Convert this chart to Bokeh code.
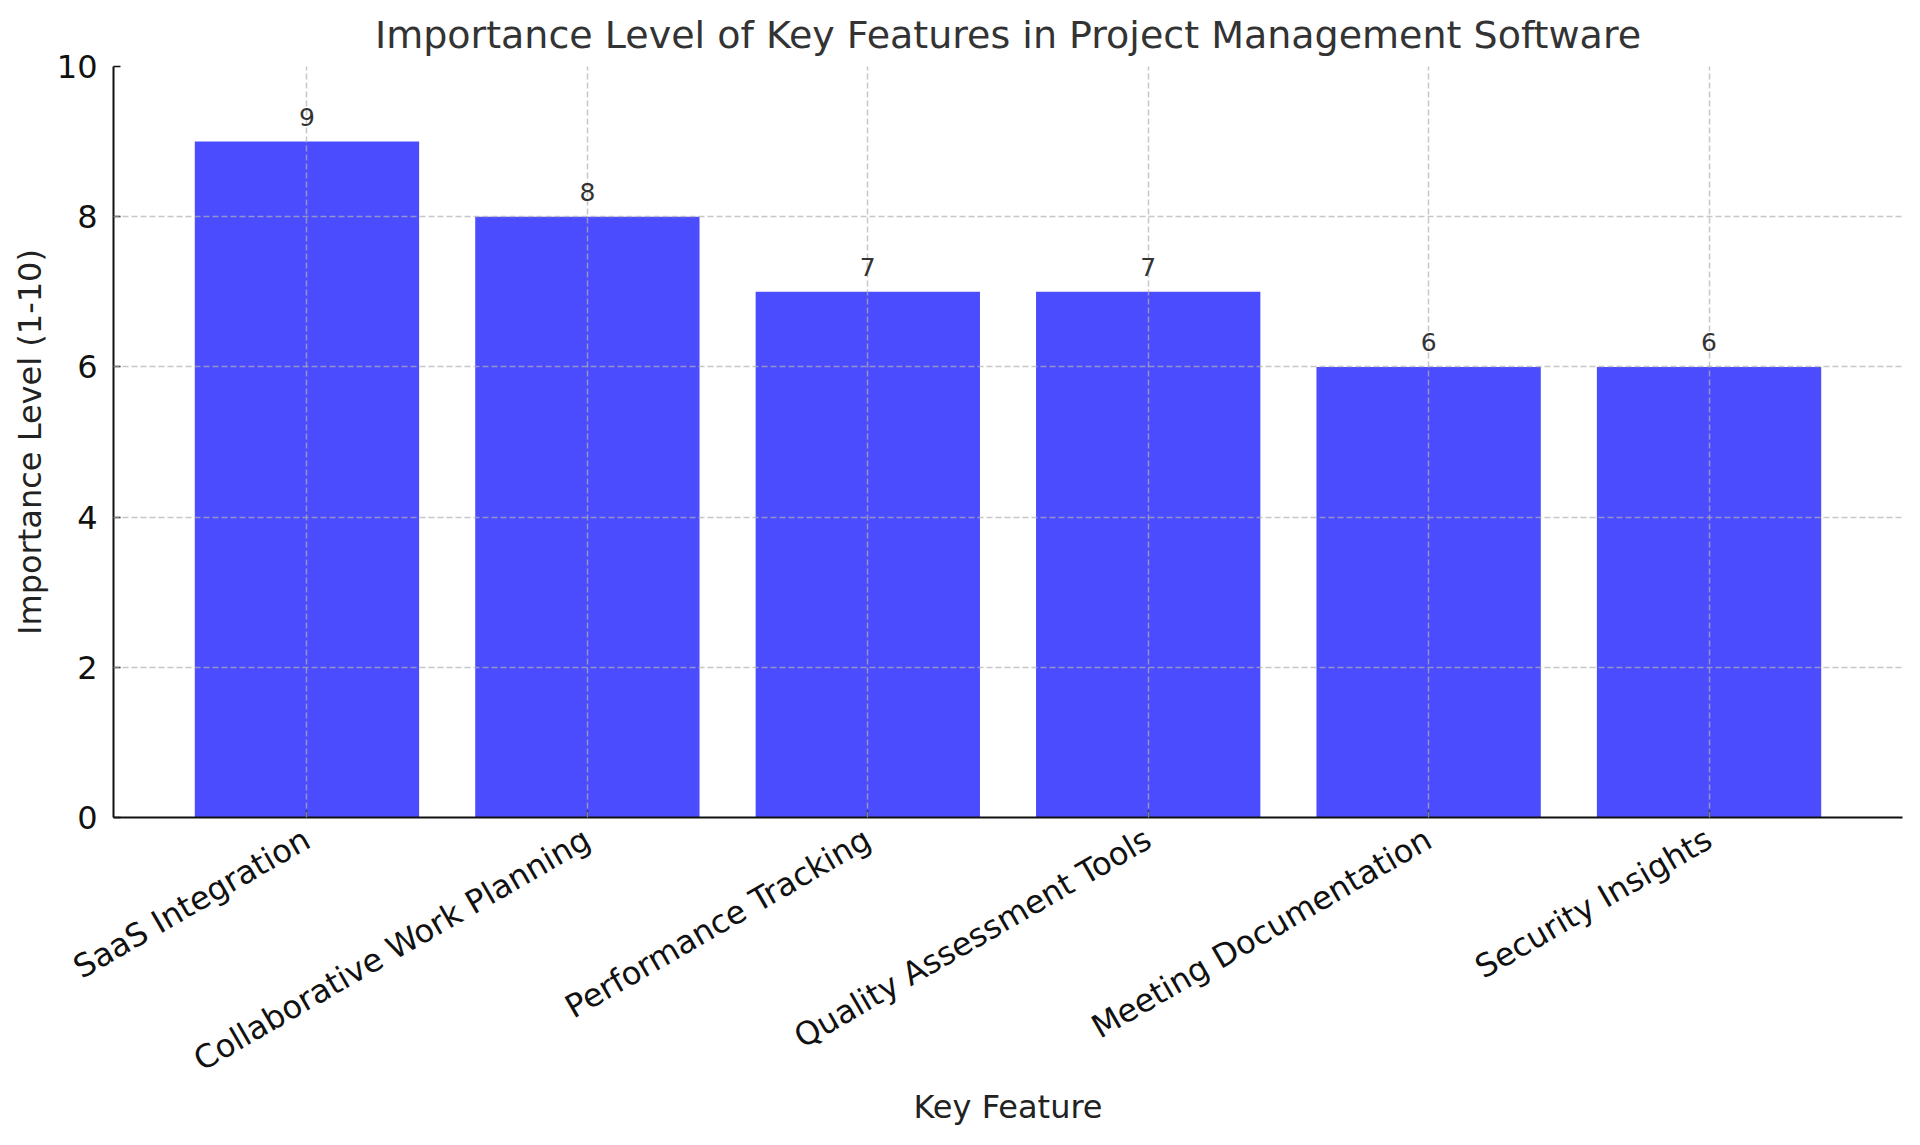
import math
from bokeh.plotting import figure
from bokeh.models import FactorRange, Range1d, SingleIntervalTicker, ColumnDataSource, LabelSet
from bokeh.core.properties import value
from bokeh.embed import file_html
from bokeh.resources import INLINE

features = ["SaaS Integration", "Collaborative Work Planning", "Performance Tracking",
            "Quality Assessment Tools", "Meeting Documentation", "Security Insights"]
importance = [9, 8, 7, 7, 6, 6]
y_tick_interval = 2
y_max = 10

src = ColumnDataSource(dict(feature=features, importance=importance,
                            label=[str(v) for v in importance]))

FONT = "DejaVu Sans"

p = figure(x_range=FactorRange(factors=features, range_padding=0.0633),
           y_range=Range1d(0, y_max),
           width=1912, height=1137, output_backend="svg", toolbar_location=None,
           title="Importance Level of Key Features in Project Management Software",
           min_border_left=113, min_border_right=10, min_border_top=66, min_border_bottom=320)

p.vbar(x="feature", top="importance", width=0.8, source=src,
       fill_color="blue", fill_alpha=0.7, line_color=None)

labels = LabelSet(x="feature", y="importance", text="label", source=src,
                  text_align="center", text_baseline="alphabetic", y_offset=16,
                  text_font=value(FONT), text_font_size=value("25px"), text_color="#333333")
p.add_layout(labels)

p.title.align = "center"
p.title.text_font = FONT
p.title.text_font_size = "38px"
p.title.text_font_style = "normal"
p.title.text_color = "#333333"
p.title.standoff = 19

p.outline_line_color = None
p.background_fill_color = "white"

for ax in (p.xaxis[0], p.yaxis[0]):
    ax.axis_line_color = "#111111"
    ax.axis_line_width = 2
    ax.major_tick_in = 7
    ax.major_tick_out = 0
    ax.major_tick_line_color = "#111111"
    ax.major_tick_line_width = 1.5
    ax.minor_tick_line_color = None
    ax.major_label_text_font = FONT
    ax.major_label_text_font_size = "32px"
    ax.major_label_text_color = "#111111"
    ax.axis_label_text_font = FONT
    ax.axis_label_text_font_size = "32px"
    ax.axis_label_text_font_style = "normal"
    ax.axis_label_text_color = "#222222"

p.xaxis.axis_label = "Key Feature"
p.yaxis.axis_label = "Importance Level (1-10)"
p.xaxis.major_label_orientation = math.pi / 6
p.xaxis.major_label_standoff = 19
p.yaxis.major_label_standoff = 12
p.xaxis.axis_label_standoff = -10
p.yaxis.axis_label_standoff = 5
p.yaxis.ticker = SingleIntervalTicker(interval=y_tick_interval)

for g in (p.xgrid[0], p.ygrid[0]):
    g.grid_line_color = "#b0b0b0"
    g.grid_line_alpha = 0.7
    g.grid_line_dash = "6 3"
    g.grid_line_width = 1.5
    g.level = "annotation"

open("out.html", "w").write(file_html(p, INLINE))
